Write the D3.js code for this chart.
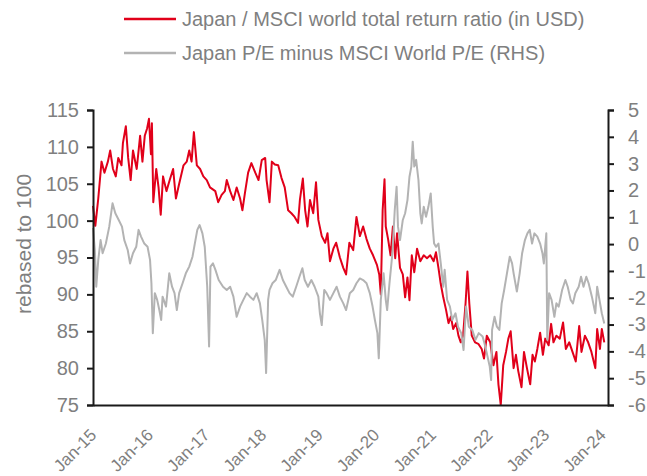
<!DOCTYPE html>
<html>
<head>
<meta charset="utf-8">
<script src="https://cdn.jsdelivr.net/npm/d3@7"></script>
<style>
  body { margin: 0; background: #fff; }
  svg { display: block; }
  .lbl { font-family: "Liberation Sans", Arial, sans-serif; font-size: 20px; fill: #7f7f7f; }
</style>
</head>
<body>
<svg width="647" height="476"></svg>
<script>
// [months since Jan 2015, value]
const ratio = [[0,102],[0.5,99.3],[1.1,103],[1.8,108],[2.5,106.5],[3.2,108],[3.7,109.5],[4.3,107],[4.9,106],[5.4,108.5],
  [6.1,107.5],[6.4,110.5],[7,112.8],[7.5,108.5],[8,105.5],[8.5,109.5],[9.3,107],[10,111.5],[10.5,108],[11,111.5],
  [11.5,112.5],[11.9,113.8],[12.3,109],[12.5,113.2],[12.8,102.5],[13.4,107],[13.9,104.5],[14.4,100.8],[14.9,106],[15.6,104],
  [16.3,105.5],[17,107],[17.6,103],[18.3,105],[19.2,107.5],[19.9,108],[20.4,109.5],[20.9,108],[21.4,112],[22,107.5],
  [22.7,107],[23.4,106],[24.1,105.5],[24.8,104.5],[25.9,104],[26.6,102.5],[27.3,103.5],[28,104],[28.4,105.5],[29.1,104],
  [29.8,102.8],[30.5,104.5],[31.2,103],[31.7,101.4],[32.2,103.7],[32.9,106.5],[33.6,107.8],[34.4,106.5],[35.1,105.5],[35.8,108.2],
  [36.5,108.5],[36.8,105.5],[37.4,102.5],[37.9,108],[38.6,107.6],[39.3,107.5],[40,105.8],[40.7,104.5],[41.4,101.4],[42.1,101],
  [42.8,100.5],[43.5,99.7],[43.9,102.8],[44.5,105.7],[45,101.4],[45.5,99.2],[46,102.8],[46.7,101],[47.3,105.2],[47.8,100.1],
  [48.5,97.9],[49.2,97],[49.7,98.3],[50.3,94.5],[51,96.2],[51.6,97],[52.4,95],[53.1,93.6],[53.7,92.7],[54.4,97],
  [55.2,96],[55.9,100.5],[56.6,97.9],[57.3,99.2],[58,97.5],[58.7,96.2],[59.4,95.3],[60.2,94],[60.7,92.7],[61,90],
  [61.4,101.4],[61.8,105.6],[62.1,99.2],[62.6,97.5],[63.1,95.3],[63.6,99.2],[64.1,94.9],[64.5,98.3],[65.1,93.6],[65.7,92.7],
  [66.2,89.6],[66.7,92.3],[67.1,89.2],[67.6,95.3],[68.1,93],[68.7,96.2],[69.4,94.5],[70.1,95.3],[70.8,94.9],[71.5,95.3],
  [72.2,94.5],[72.7,95.7],[73.2,93.6],[73.7,91.4],[74.3,89.6],[74.9,87.9],[75.4,86.1],[75.9,87],[76.4,85.3],[77,86.1],
  [77.5,84.4],[78,83.5],[78.5,84.4],[79,88.8],[79.4,93.1],[79.8,88.8],[80.3,84.4],[81,83.5],[81.7,83.3],[82.4,82.6],
  [82.9,81.3],[83.5,84.4],[84.2,83.5],[84.9,80.4],[85.5,82.2],[86,77.8],[86.5,75],[87,80.4],[87.6,82.2],[88.1,84],
  [88.6,85],[89.2,80],[89.7,81.8],[90.2,79.6],[90.9,77.4],[91.4,82.2],[92,80],[92.7,77.8],[93.2,81.8],[93.7,80.9],
  [94.2,82.6],[94.8,84.8],[95.4,81.8],[95.9,84],[96.6,83.1],[97.1,86],[97.6,83.5],[98.3,84.4],[99,84],[99.7,86.2],
  [100.3,82.6],[101,83.5],[101.7,82.2],[102.4,80.9],[103.1,85.7],[103.6,82.2],[104.3,84.4],[105,83.5],[105.7,82.2],[106.5,80],
  [106.9,85.3],[107.5,82.6],[107.9,85.3],[108.4,83.5]];

// [months since Jan 2015, P/E difference]
const peDiff = [[0,0.6],[0.4,-0.22],[0.7,-1.59],[1.1,-0.59],[1.6,0.15],[2.1,-0.34],[2.8,0.02],[3.5,0.65],[4.2,1.52],[4.8,1.15],
  [5.5,0.9],[6.2,0.65],[6.7,0.15],[7.4,-0.22],[7.9,-0.72],[8.5,-0.34],[9.2,-0.1],[9.7,0.53],[10.2,0.28],[10.9,0.02],
  [11.6,-0.1],[12.1,-0.59],[12.4,-1.46],[12.7,-3.32],[13.1,-1.83],[13.6,-2.08],[14.1,-2.46],[14.5,-2.83],[14.8,-1.96],[15.5,-2.33],
  [16.2,-1.09],[16.8,-1.59],[17.3,-1.83],[17.8,-2.46],[18.3,-1.83],[19,-1.46],[19.7,-1.09],[20.4,-0.84],[21.1,-0.47],[21.6,0.02],
  [22.1,0.53],[22.6,0.71],[23.2,0.4],[23.7,-0.1],[24.2,-1.59],[24.6,-3.82],[24.9,-0.84],[25.4,-0.72],[26,-0.96],[26.7,-1.34],
  [27.6,-1.59],[28.4,-1.71],[29.1,-1.59],[29.8,-1.96],[30.5,-2.71],[31.2,-2.33],[31.9,-2.08],[32.6,-1.83],[33.3,-1.96],[34,-2.08],
  [34.7,-1.83],[35.4,-2.21],[35.9,-2.83],[36.4,-3.57],[36.7,-4.81],[37.1,-2.08],[37.4,-1.71],[38.1,-1.46],[38.8,-1.34],[39.6,-0.96],
  [40.3,-1.34],[41,-1.59],[41.7,-1.83],[42.4,-1.96],[43.1,-1.59],[43.8,-1.22],[44.4,-0.9],[44.9,-1.34],[45.6,-1.59],[46.3,-1.34],
  [47,-1.59],[47.8,-1.96],[48.1,-2.58],[48.5,-3.02],[49,-1.71],[49.5,-1.83],[50.3,-2.08],[51,-1.83],[51.7,-1.59],[52.4,-1.96],
  [53.1,-2.21],[53.7,-2.46],[54.5,-1.83],[55.2,-1.71],[55.9,-1.46],[56.6,-1.28],[57.3,-1.34],[58,-1.46],[58.7,-1.83],[59.3,-2.33],
  [59.8,-2.83],[60.3,-3.32],[60.6,-4.26],[61,-2.08],[61.6,-1.09],[62.1,-2.08],[62.4,-2.46],[62.9,-1.46],[63.5,-0.34],[64,1.27],
  [64.4,2.14],[64.7,0.65],[65.1,0.15],[65.7,0.9],[66.2,1.15],[66.7,1.64],[67.1,2.51],[67.5,2.89],[67.8,3.82],[68.1,2.89],
  [68.5,3.14],[69,2.39],[69.4,1.15],[69.7,0.77],[70.1,1.39],[70.6,1.02],[71.1,1.39],[71.6,1.89],[72,0.65],[72.3,0.02],
  [72.7,-0.1],[73.2,0.02],[73.7,-0.72],[74.3,-1.59],[74.6,-0.96],[75.1,-2.08],[75.7,-2.33],[76.2,-2.83],[76.9,-2.58],[77.4,-3.08],
  [78.1,-3.32],[78.6,-3.95],[79.1,-2.33],[79.7,-3.08],[80.4,-3.2],[81.1,-3.57],[81.8,-3.32],[82.6,-3.45],[83,-3.7],[83.5,-4.07],
  [84.1,-4.57],[84.4,-5.07],[84.6,-3.2],[85.1,-2.71],[85.6,-3.08],[86.2,-3.2],[86.7,-2.21],[87.2,-1.71],[87.8,-1.09],[88.4,-0.47],
  [88.9,-0.72],[89.2,-1.09],[89.9,-1.77],[90.5,-1.09],[91,-0.34],[91.6,0.15],[92.1,0.4],[92.6,0.53],[93.1,0.02],[93.6,0.4],
  [94.2,0.28],[94.8,0.02],[95.3,-0.34],[95.6,-0.72],[96.1,0.4],[96.3,-3.57],[96.7,-1.83],[97.2,-2.08],[97.8,-2.71],[98.3,-2.21],
  [98.8,-2.33],[99.5,-1.71],[100.2,-1.34],[100.7,-1.59],[101.3,-2.08],[101.8,-2.21],[102.3,-1.83],[103,-1.59],[103.5,-1.22],[104,-1.59],
  [104.6,-1.22],[105.1,-1.46],[105.8,-1.96],[106.5,-2.58],[106.9,-1.59],[107.4,-2.08],[107.9,-2.58],[108.4,-2.96]];

const leftTicks = [75, 80, 85, 90, 95, 100, 105, 110, 115];
const rightTicks = [-6, -5, -4, -3, -2, -1, 0, 1, 2, 3, 4, 5];
const tickYears = [2015, 2016, 2017, 2018, 2019, 2020, 2021, 2022, 2023, 2024];
const legendItems = [
  {label: "Japan / MSCI world total return ratio (in USD)", colour: "#e1001a"},
  {label: "Japan P/E minus MSCI World P/E (RHS)", colour: "#b3b3b3"}
];

// month offset -> Date
function toDate(m) {
  let d = new Date(2015, Math.floor(m), 1);
  d.setDate(1 + Math.round((m - Math.floor(m)) * 30));
  return d;
}

const svg = d3.select("svg");
const plotL = 93, plotR = 608, plotT = 110, plotB = 405;

const x = d3.scaleTime()
  .domain([new Date(2015, 0, 1), new Date(2024, 1, 6)])
  .range([plotL, plotR]);
const yL = d3.scaleLinear().domain([75, 115]).range([plotB, plotT]);
const yR = d3.scaleLinear().domain([-6, 5]).range([plotB, plotT]);

// lines
const lineL = d3.line().x(d => x(toDate(d[0]))).y(d => yL(d[1]));
const lineR = d3.line().x(d => x(toDate(d[0]))).y(d => yR(d[1]));

svg.append("path").datum(ratio)
  .attr("d", lineL).attr("fill", "none")
  .attr("stroke", legendItems[0].colour).attr("stroke-width", 2)
  .attr("stroke-linejoin", "round");

svg.append("path").datum(peDiff)
  .attr("d", lineR).attr("fill", "none")
  .attr("stroke", legendItems[1].colour).attr("stroke-width", 2)
  .attr("stroke-linejoin", "round");

// axes
let gL = svg.append("g").attr("transform", "translate(" + plotL + ",0)")
  .call(d3.axisLeft(yL).tickValues(leftTicks).tickSize(6).tickPadding(8));
let gR = svg.append("g").attr("transform", "translate(" + plotR + ",0)")
  .call(d3.axisRight(yR).tickValues(rightTicks).tickSize(6).tickPadding(14)
    .tickFormat(d => d));
let gX = svg.append("g").attr("transform", "translate(0," + plotB + ")")
  .call(d3.axisBottom(x).tickValues(tickYears.map(yr => new Date(yr, 0, 1)))
    .tickFormat(d3.timeFormat("%b-%y")).tickSize(0));

[gL, gR, gX].forEach(g => {
  g.select(".domain").attr("stroke", "#1a1a1a").attr("stroke-width", 2);
  g.selectAll(".tick line").attr("stroke", "#1a1a1a").attr("stroke-width", 2);
  g.selectAll("text").attr("class", "lbl").attr("fill", null);
});
gR.selectAll("text").attr("text-anchor", "start");
gX.selectAll("text")
  .attr("x", 0).attr("y", 0).attr("dy", 0)
  .attr("text-anchor", "end")
  .style("font-size", "17px")
  .attr("transform", "translate(4,31) rotate(-45)");

// y label
svg.append("text").attr("class", "lbl")
  .attr("transform", "translate(31,244) rotate(-90)")
  .attr("text-anchor", "middle")
  .style("font-size", "21px")
  .text("rebased to 100");

// legend
let lg = svg.append("g");
legendItems.forEach((it, i) => {
  let yy = 19 + i * 34;
  lg.append("line").attr("x1", 124).attr("x2", 176).attr("y1", yy).attr("y2", yy)
    .attr("stroke", it.colour).attr("stroke-width", 2.5);
  lg.append("text").attr("class", "lbl").attr("x", 182).attr("y", yy).attr("dy", "0.35em")
    .text(it.label);
});
</script>
</body>
</html>
